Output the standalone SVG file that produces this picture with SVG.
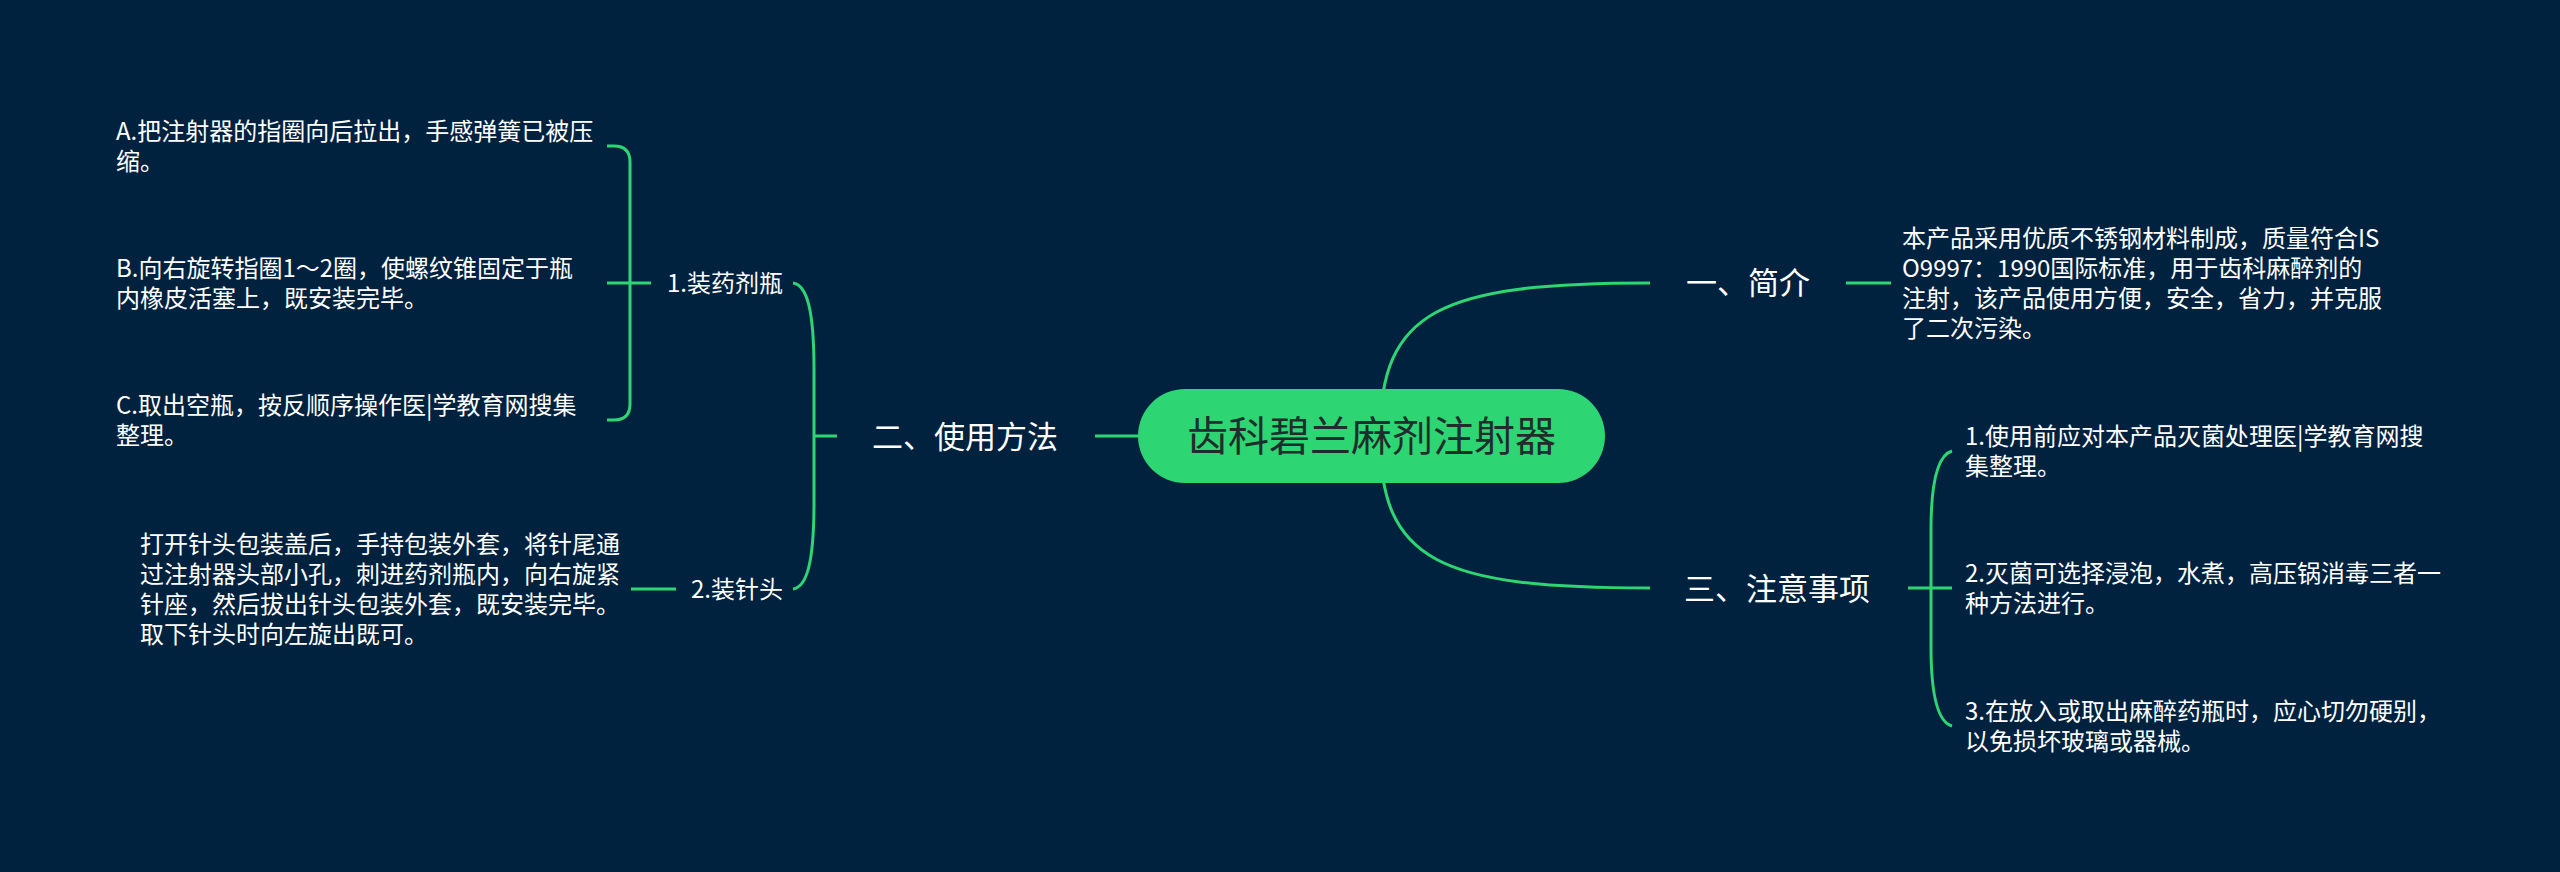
<svg xmlns="http://www.w3.org/2000/svg" width="2560" height="872" viewBox="0 0 2560 872">
<style>
.bg{fill:#00223f}
.ln{fill:none;stroke:#2ed573;stroke-width:3}
text{font-family:"Noto Sans CJK SC","Noto Sans",sans-serif;fill:#ffffff}
.t24{font-size:24px}
.t31{font-size:31px}
.title{font-size:41px;fill:#1f2d2d}
</style>
<rect class="bg" x="0" y="0" width="2560" height="872"/>
<g id="connectors">
<path class="ln" d="M1380 436 C1380 310 1440 283 1650 283"/>
<path class="ln" d="M1380 436 C1380 562 1440 588 1650 588"/>
<path class="ln" d="M1095 436 L1140 436"/>
<path class="ln" d="M815 436 L837 436"/>
<path class="ln" d="M793 283 C807 285 814 310 814 370 L814 502 C814 562 807 587 793 589"/>
<path class="ln" d="M651 283 L607 283"/>
<path class="ln" d="M607 146 L614 146 Q630 146 630 162 L630 404 Q630 420 614 420 L607 420"/>
<path class="ln" d="M676 589 L631 589"/>
<path class="ln" d="M1846 283 L1891 283"/>
<path class="ln" d="M1908 588 L1952 588"/>
<path class="ln" d="M1952 451 C1938 455 1931 480 1931 530 L1931 647 C1931 697 1938 722 1952 726"/>
</g>
<g id="root">
<rect x="1138" y="389" width="467" height="94" rx="47" fill="#2ed573"/>
<text class="title" x="1371.5" y="451" text-anchor="middle">齿科碧兰麻剂注射器</text>
</g>
<g id="n-jianjie">
<text class="t31" x="1686" y="294">一、简介</text>
</g>
<g id="n-jianjie-desc">
<text class="t24" x="1902"><tspan x="1902" y="247">本产品采用优质不锈钢材料制成，质量符合IS</tspan><tspan x="1902" y="277">O9997：1990国际标准，用于齿科麻醉剂的</tspan><tspan x="1902" y="307">注射，该产品使用方便，安全，省力，并克服</tspan><tspan x="1902" y="337">了二次污染。</tspan></text>
</g>
<g id="n-zhuyi">
<text class="t31" x="1684" y="600">三、注意事项</text>
</g>
<g id="n-zhuyi-1">
<text class="t24"><tspan x="1965" y="445">1.使用前应对本产品灭菌处理医|学教育网搜</tspan><tspan x="1965" y="475">集整理。</tspan></text>
</g>
<g id="n-zhuyi-2">
<text class="t24"><tspan x="1965" y="582">2.灭菌可选择浸泡，水煮，高压锅消毒三者一</tspan><tspan x="1965" y="612">种方法进行。</tspan></text>
</g>
<g id="n-zhuyi-3">
<text class="t24"><tspan x="1965" y="720">3.在放入或取出麻醉药瓶时，应心切勿硬别，</tspan><tspan x="1965" y="750">以免损坏玻璃或器械。</tspan></text>
</g>
<g id="n-shiyong">
<text class="t31" x="872" y="448">二、使用方法</text>
</g>
<g id="n-zhuangping">
<text class="t24" x="783" y="292" text-anchor="end">1.装药剂瓶</text>
</g>
<g id="n-zhuangping-a">
<text class="t24"><tspan x="116" y="140">A.把注射器的指圈向后拉出，手感弹簧已被压</tspan><tspan x="116" y="170">缩。</tspan></text>
</g>
<g id="n-zhuangping-b">
<text class="t24"><tspan x="116" y="277">B.向右旋转指圈1～2圈，使螺纹锥固定于瓶</tspan><tspan x="116" y="307">内橡皮活塞上，既安装完毕。</tspan></text>
</g>
<g id="n-zhuangping-c">
<text class="t24"><tspan x="116" y="414">C.取出空瓶，按反顺序操作医|学教育网搜集</tspan><tspan x="116" y="444">整理。</tspan></text>
</g>
<g id="n-zhentou">
<text class="t24" x="783" y="598" text-anchor="end">2.装针头</text>
</g>
<g id="n-zhentou-desc">
<text class="t24"><tspan x="140" y="553">打开针头包装盖后，手持包装外套，将针尾通</tspan><tspan x="140" y="583">过注射器头部小孔，刺进药剂瓶内，向右旋紧</tspan><tspan x="140" y="613">针座，然后拔出针头包装外套，既安装完毕。</tspan><tspan x="140" y="643">取下针头时向左旋出既可。</tspan></text>
</g>
</svg>
